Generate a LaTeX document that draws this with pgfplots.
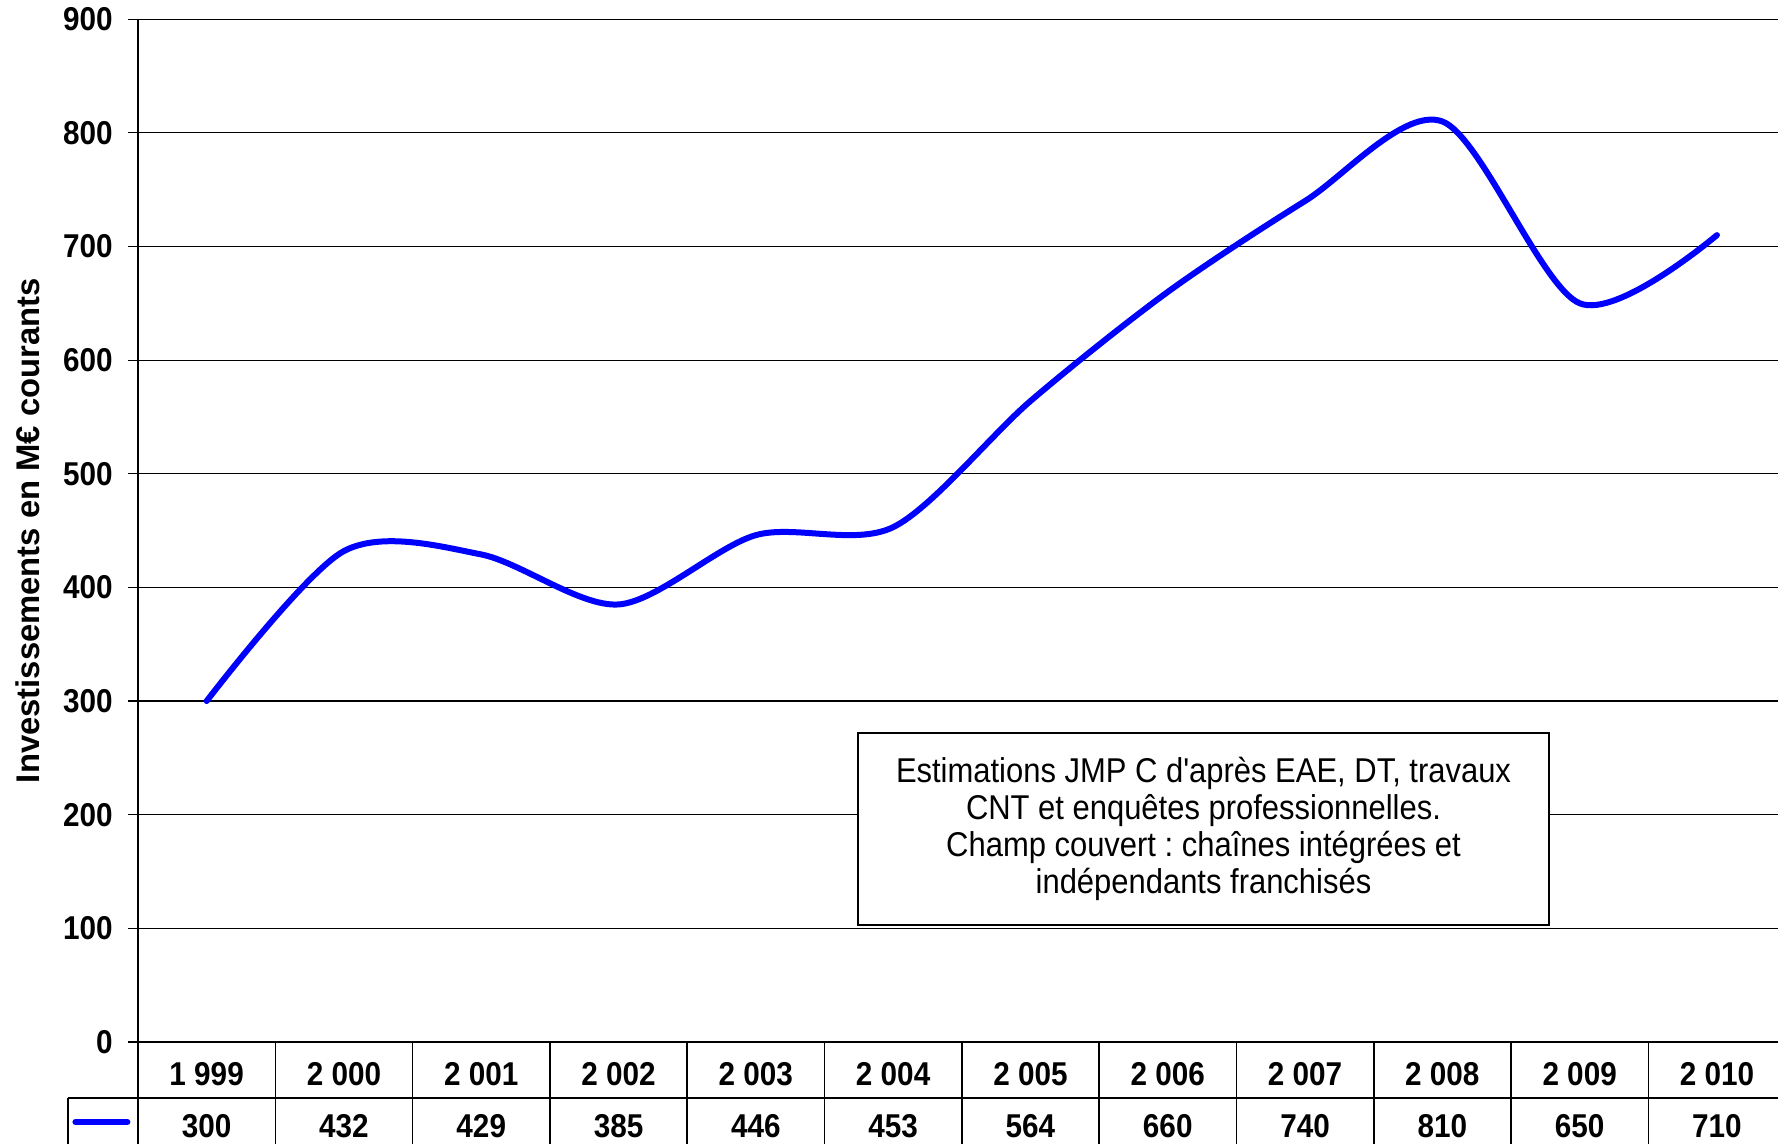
\documentclass[border=0pt]{standalone}
\usepackage{fontspec}
\setmainfont{Liberation Sans}[FakeStretch=0.9]
\newfontfamily\boxfont{Liberation Sans}[FakeStretch=0.9]
\newfontfamily\labelfont{Liberation Sans}
\usepackage{pgfplots}
\pgfplotsset{compat=1.18}
\frenchspacing

\begin{document}
\begin{tikzpicture}
% the reference is cropped at the right and bottom edges
\useasboundingbox (0,0) rectangle (889pt,572pt);
\clip (0,0) rectangle (889pt,572pt);
\begin{axis}[
  at={(69pt,51pt)}, anchor=south west,
  scale only axis, width=823.8pt, height=511.4pt,
  xmin=-0.5, xmax=11.5, ymin=0, ymax=900,
  axis x line=bottom, axis y line=left,
  axis line style={-, black, line width=1pt},
  ytick={0,100,...,900},
  xtick={0,...,11},
  xticklabels={{1 999\\300},{2 000\\432},{2 001\\429},{2 002\\385},{2 003\\446},{2 004\\453},
               {2 005\\564},{2 006\\660},{2 007\\740},{2 008\\810},{2 009\\650},{2 010\\710}},
  ymajorgrids, grid style={black, line width=0.6pt},
  tick align=outside, major tick length=5pt,
  ytick style={black, line width=0.6pt},
  xtick style={draw=none},
  /pgf/number format/assume math mode=true,
  yticklabel style={font=\bfseries\fontsize{16.5}{18}\selectfont, anchor=east, inner sep=0pt, xshift=-7.5pt},
  xticklabel style={font=\bfseries\fontsize{16.5}{26}\selectfont, align=center, anchor=north, inner sep=0pt, yshift=-4.9pt},
  ylabel={Investissements en M€ courants},
  ylabel style={font=\labelfont\bfseries\fontsize{16.4}{18}\selectfont, at={([xshift=-55pt]axis description cs:0,0.5)}, anchor=center},
  legend style={at={(axis description cs:0,0)}, anchor=west, xshift=-33pt, yshift=-40pt,
                draw=none, fill=none, inner sep=0pt},
  legend image code/.code={\draw[#1, line cap=round] (0pt,0pt) -- (26pt,0pt);},
  clip=false,
]
\addplot[blue, line width=3pt, smooth, line cap=round] coordinates {
(0,300) (1,432) (2,429) (3,385) (4,446) (5,453)
(6,564) (7,660) (8,740) (9,810) (10,650) (11,710)
};
\addlegendentry{}

% data table below the axis
\pgfplotsinvokeforeach{-0.5,0.5,...,11.5}{
  \draw[black, line width=0.8pt] (axis cs:#1,0) -- ++(0pt,-80pt);
}
\draw[black, line width=0.8pt] (axis cs:-0.5,0) ++(-35pt,-28pt) -- ++(900pt,0pt);
\draw[black, line width=0.8pt] (axis cs:-0.5,0) ++(-35pt,-28pt) -- ++(0pt,-60pt);
\end{axis}

\node[draw=black, line width=1pt, fill=white, minimum width=345.5pt, minimum height=96pt,
      align=center, font=\boxfont\fontsize{17.2}{18.5}\selectfont] at (601.75pt,157.5pt)
  {Estimations JMP C d'après EAE, DT, travaux\\CNT et enquêtes professionnelles.\\
   Champ couvert : chaînes intégrées et\\indépendants franchisés};
\end{tikzpicture}
\end{document}
